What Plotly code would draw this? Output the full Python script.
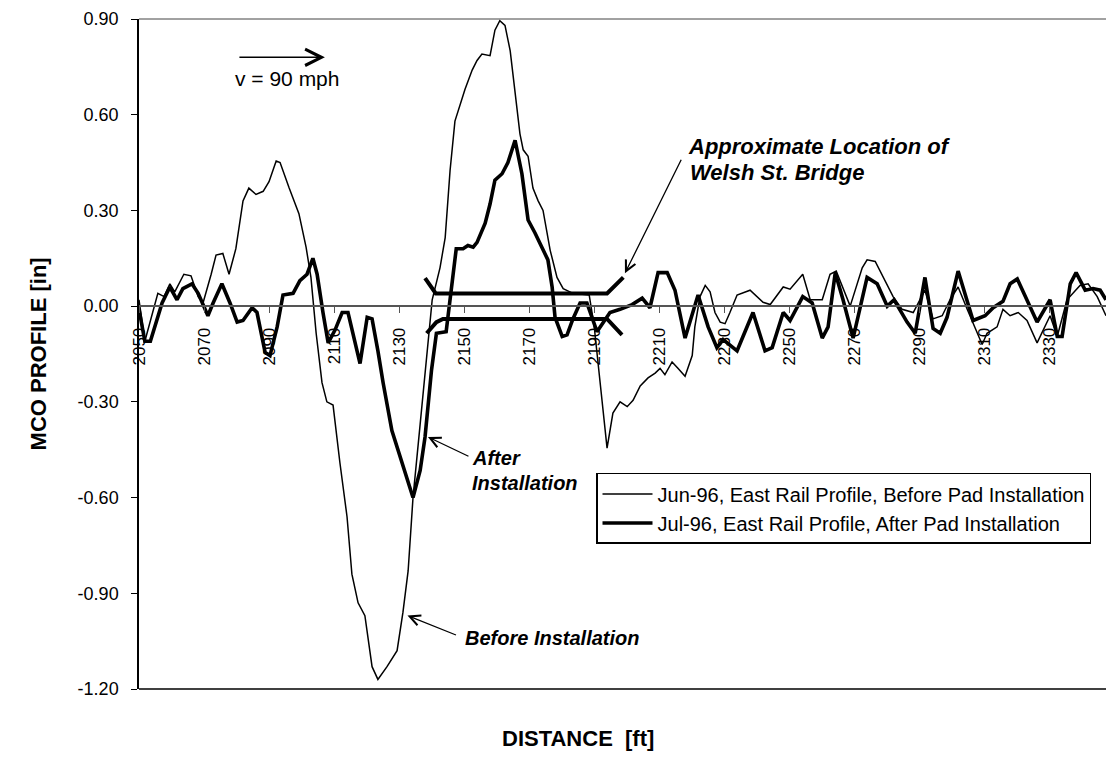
import plotly.graph_objects as go

# Jun-96, east rail MCO profile before pad installation (distance ft, profile in)
distance_jun = [2050.0, 2051.8, 2055.8, 2057.7, 2059.5, 2061.0, 2063.8, 2066.0, 2068.2, 2069.7,
                2072.2, 2073.7, 2075.8, 2077.7, 2079.8, 2082.0, 2083.8, 2086.0, 2088.2, 2090.0,
                2092.2, 2093.4, 2096.2, 2099.2, 2101.4, 2102.9, 2104.5, 2106.3, 2107.8, 2109.7,
                2111.8, 2114.0, 2115.5, 2117.4, 2119.5, 2121.7, 2123.5, 2126.3, 2129.4, 2131.2,
                2132.8, 2134.3, 2136.5, 2138.6, 2140.2, 2142.6, 2144.2, 2145.7, 2147.2, 2150.3,
                2152.5, 2154.0, 2155.5, 2158.0, 2159.5, 2161.0, 2162.6, 2164.2, 2165.7, 2167.2,
                2168.2, 2169.7, 2171.2, 2172.8, 2174.3, 2176.5, 2178.6, 2180.5, 2183.5, 2188.5,
                2190.0, 2194.0, 2195.8, 2198.0, 2200.2, 2202.0, 2204.2, 2206.6, 2208.8, 2210.3,
                2211.8, 2214.0, 2215.8, 2218.0, 2220.2, 2221.0, 2222.6, 2224.2, 2225.7, 2227.2,
                2228.8, 2230.3, 2231.8, 2234.0, 2238.0, 2242.0, 2244.2, 2248.2, 2250.3, 2254.2,
                2256.5, 2260.2, 2262.6, 2264.5, 2268.8, 2272.5, 2274.0, 2276.5, 2282.0, 2284.8,
                2288.2, 2291.8, 2294.3, 2297.1, 2299.5, 2302.0, 2304.8, 2307.8, 2309.4, 2310.9,
                2314.0, 2315.8, 2318.0, 2320.5, 2323.2, 2326.3, 2328.8, 2330.3, 2332.5, 2335.5,
                2339.5, 2342.0, 2344.8, 2347.5]
mco_jun = [0.02, -0.11, 0.04, 0.03, 0.07, 0.045, 0.10, 0.095, 0.03, 0.01,
           0.10, 0.16, 0.165, 0.10, 0.18, 0.33, 0.37, 0.35, 0.36, 0.39,
           0.455, 0.45, 0.37, 0.29, 0.185, 0.09, -0.085, -0.24, -0.30, -0.31,
           -0.49, -0.66, -0.84, -0.93, -0.97, -1.13, -1.17, -1.13, -1.08, -0.96,
           -0.83, -0.60, -0.37, -0.14, 0.02, 0.12, 0.215, 0.425, 0.58, 0.68,
           0.74, 0.77, 0.79, 0.785, 0.865, 0.895, 0.88, 0.80, 0.67, 0.54,
           0.49, 0.47, 0.37, 0.33, 0.30, 0.175, 0.09, 0.055, 0.04, 0.035,
           -0.06, -0.445, -0.335, -0.30, -0.315, -0.295, -0.25, -0.225, -0.21, -0.195,
           -0.215, -0.175, -0.195, -0.22, -0.155, -0.065, 0.03, 0.065, 0.045, -0.02,
           -0.05, -0.055, -0.02, 0.035, 0.05, 0.012, 0.005, 0.06, 0.053, 0.10,
           0.02, 0.02, 0.10, 0.11, 0.0, 0.12, 0.145, 0.14, 0.03, -0.01,
           -0.02, 0.05, -0.04, -0.03, 0.02, 0.06, -0.01, -0.085, -0.12, -0.085,
           -0.065, -0.01, -0.03, -0.02, -0.045, -0.115, -0.065, -0.03, -0.095, 0.02,
           0.065, 0.07, 0.03, -0.03]

# Jul-96, east rail MCO profile after pad installation
distance_jul = [2050.0, 2051.8, 2053.5, 2057.1, 2059.5, 2061.7, 2063.5, 2066.3, 2068.2, 2071.2,
                2072.8, 2075.5, 2078.0, 2080.2, 2082.0, 2084.8, 2086.3, 2088.8, 2090.3, 2092.5,
                2094.3, 2097.4, 2099.5, 2101.7, 2103.5, 2104.8, 2106.6, 2108.2, 2110.3, 2112.5,
                2114.3, 2116.5, 2118.0, 2120.2, 2121.7, 2123.5, 2125.1, 2127.8, 2130.3, 2132.5,
                2134.3, 2136.5, 2138.0, 2140.0, 2141.5, 2144.5, 2147.6, 2149.7, 2151.2, 2152.8,
                2154.0, 2156.5, 2158.0, 2159.5, 2161.7, 2163.5, 2165.7, 2167.8, 2169.7, 2171.8,
                2174.0, 2175.8, 2177.1, 2178.0, 2180.2, 2181.7, 2183.5, 2185.7, 2187.8, 2189.4,
                2190.9, 2194.9, 2198.0, 2201.7, 2204.8, 2207.2, 2209.7, 2212.5, 2214.9, 2218.0,
                2222.0, 2225.1, 2227.8, 2229.7, 2234.0, 2238.9, 2242.6, 2244.8, 2248.2, 2250.3,
                2254.2, 2257.1, 2260.2, 2262.0, 2264.2, 2266.6, 2269.7, 2274.0, 2277.1, 2280.2,
                2282.3, 2286.3, 2288.8, 2291.8, 2294.3, 2296.5, 2298.6, 2302.0, 2304.8, 2306.6,
                2310.3, 2312.8, 2315.8, 2318.0, 2320.2, 2323.2, 2326.3, 2330.3, 2332.5, 2334.0,
                2336.5, 2338.3, 2341.1, 2343.5, 2345.7, 2347.5]
mco_jul = [-0.01, -0.11, -0.11, 0.01, 0.06, 0.02, 0.055, 0.07, 0.04, -0.03,
           0.01, 0.07, 0.01, -0.05, -0.045, -0.005, -0.02, -0.145, -0.155, -0.065,
           0.035, 0.04, 0.08, 0.10, 0.15, 0.10, -0.02, -0.115, -0.075, -0.02,
           -0.02, -0.115, -0.18, -0.035, -0.04, -0.14, -0.24, -0.39, -0.47, -0.535,
           -0.60, -0.515, -0.41, -0.20, -0.085, -0.08, 0.18, 0.18, 0.19, 0.185,
           0.20, 0.26, 0.32, 0.395, 0.415, 0.45, 0.52, 0.415, 0.27, 0.23,
           0.185, 0.145, 0.06, -0.035, -0.095, -0.09, -0.04, 0.01, 0.01, -0.035,
           -0.08, -0.02, -0.01, 0.005, 0.025, -0.005, 0.105, 0.105, 0.05, -0.10,
           0.035, -0.065, -0.13, -0.105, -0.14, -0.02, -0.14, -0.13, -0.02, -0.045,
           0.03, 0.01, -0.10, -0.065, 0.105, 0.02, -0.10, 0.09, 0.07, 0.0,
           0.02, -0.05, -0.085, 0.09, -0.07, -0.085, -0.035, 0.11, 0.02, -0.045,
           -0.03, -0.005, 0.015, 0.07, 0.085, 0.02, -0.05, 0.02, -0.095, -0.095,
           0.07, 0.105, 0.05, 0.055, 0.05, 0.02]

# Welsh St. Bridge outline (deck edges with flared ends)
bridge_top_x = [2138.0, 2141.3, 2194.0, 2199.0]
bridge_top_y = [0.088, 0.04, 0.04, 0.09]
bridge_bot_x = [2138.5, 2141.5, 2143.5, 2194.0, 2198.6]
bridge_bot_y = [-0.085, -0.05, -0.04, -0.04, -0.09]

x_ticks = list(range(2050, 2331, 20))
y_ticks = [-1.2, -0.9, -0.6, -0.3, 0.0, 0.3, 0.6, 0.9]
y_tick_labels = ["-1.20", "-0.90", "-0.60", "-0.30", "0.00", "0.30", "0.60", "0.90"]

FONT = "Arial, Liberation Sans, sans-serif"

fig = go.Figure()
fig.add_trace(go.Scatter(
    x=distance_jun, y=mco_jun, mode="lines",
    name="Jun-96, East Rail Profile, Before Pad Installation",
    line=dict(color="black", width=1.5), legendgroup="jun",
))
fig.add_trace(go.Scatter(
    x=distance_jul, y=mco_jul, mode="lines",
    name="Jul-96, East Rail Profile, After Pad Installation",
    line=dict(color="black", width=3.6), legendgroup="jul",
))
for bx, by in ((bridge_top_x, bridge_top_y), (bridge_bot_x, bridge_bot_y)):
    fig.add_trace(go.Scatter(
        x=bx, y=by, mode="lines", showlegend=False, hoverinfo="skip",
        line=dict(color="black", width=4),
    ))

zero_frac = (0 - y_ticks[0]) / (y_ticks[-1] - y_ticks[0])

fig.update_layout(
    width=1106, height=769,
    margin=dict(l=139, r=0, t=19, b=80),
    paper_bgcolor="white", plot_bgcolor="white",
    font=dict(family=FONT, color="black", size=18),
    legend=dict(
        x=0.4726, y=0.3224, xanchor="left", yanchor="top",
        bordercolor="black", borderwidth=1.5, bgcolor="white",
        font=dict(size=20, family=FONT), tracegroupgap=0, itemwidth=50,
    ),
    xaxis=dict(
        range=[2050, 2347.5], anchor="free", position=zero_frac,
        tickmode="array", tickvals=x_ticks, ticktext=[str(v) for v in x_ticks],
        tickangle=-90, ticks="outside", ticklen=6, tickcolor="#555",
        showline=True, linecolor="#555", linewidth=1.5,
        showgrid=False, zeroline=False,
        tickfont=dict(size=17, family=FONT), ticklabelstandoff=8,
    ),
    yaxis=dict(
        range=[y_ticks[0], y_ticks[-1]],
        tickmode="array", tickvals=y_ticks, ticktext=y_tick_labels,
        ticks="outside", ticklen=6, tickcolor="black",
        showline=True, linecolor="black", linewidth=1.5,
        showgrid=False, zeroline=False,
        tickfont=dict(size=18, family=FONT), ticklabelstandoff=9,
    ),
    shapes=[
        dict(type="line", xref="paper", yref="paper", x0=0, x1=1, y0=1, y1=1,
             line=dict(color="#444", width=1)),
        dict(type="line", xref="paper", yref="paper", x0=0, x1=1, y0=0, y1=0,
             line=dict(color="black", width=1.5)),
    ],
)

annotations = [
    # axis titles
    dict(text="<b>MCO PROFILE [in]</b>", xref="paper", yref="paper", x=-0.104, y=0.5,
         xanchor="center", yanchor="middle",
         textangle=-90, showarrow=False, font=dict(size=22)),
    dict(text="<b>DISTANCE  [ft]</b>", xref="paper", yref="paper", x=0.454, y=-0.0746,
         xanchor="center", yanchor="middle", showarrow=False, font=dict(size=22)),
    # travel direction
    dict(x=2107.2, y=0.78, ax=-87, ay=0, text="", showarrow=True,
         arrowhead=5, arrowsize=2.0, arrowwidth=1.6, arrowcolor="black"),
    dict(text="v = 90 mph", x=2095.5, y=0.712, showarrow=False, font=dict(size=21)),
    # bridge callout
    dict(text="<b><i>Approximate Location of</i></b>", x=2218.2, y=0.50,
         xanchor="left", showarrow=False, font=dict(size=22)),
    dict(text="<b><i>Welsh St. Bridge</i></b>", x=2218.8, y=0.42,
         xanchor="left", showarrow=False, font=dict(size=22)),
    dict(x=2199.5, y=0.103, ax=57, ay=-115, text="", showarrow=True,
         arrowhead=5, arrowsize=1.6, arrowwidth=1.3, arrowcolor="black"),
    # after / before callouts
    dict(text="<b><i>After</i></b>", x=2151.8, y=-0.475, xanchor="left",
         showarrow=False, font=dict(size=20)),
    dict(text="<b><i>Installation</i></b>", x=2151.8, y=-0.555, xanchor="left",
         showarrow=False, font=dict(size=20)),
    dict(x=2138.9, y=-0.41, ax=42, ay=20, text="", showarrow=True,
         arrowhead=5, arrowsize=1.6, arrowwidth=1.3, arrowcolor="black"),
    dict(text="<b><i>Before Installation</i></b>", x=2149.8, y=-1.04, xanchor="left",
         showarrow=False, font=dict(size=20)),
    dict(x=2132.6, y=-0.97, ax=50, ay=20, text="", showarrow=True,
         arrowhead=5, arrowsize=1.6, arrowwidth=1.3, arrowcolor="black"),
]
fig.update_layout(annotations=annotations)

fig.write_html("out.html")
